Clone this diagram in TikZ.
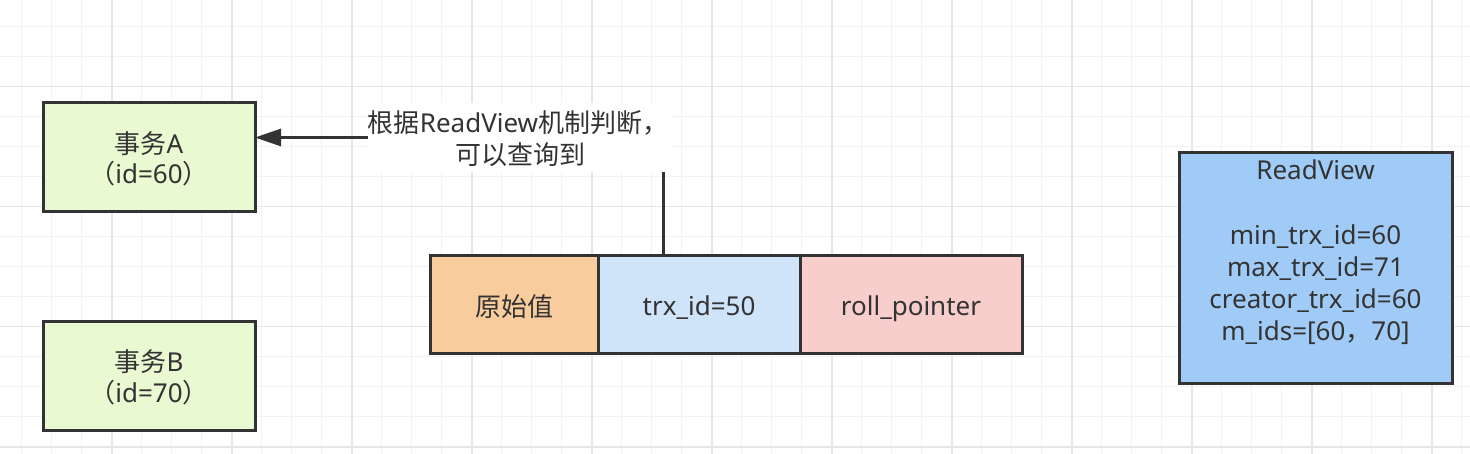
\documentclass[tikz,border=0pt]{standalone}
\usepackage{fontspec}
\setmainfont{Noto Sans}
\newfontfamily\cjk{Noto Sans CJK SC}
\usetikzlibrary{arrows.meta}
\definecolor{txt}{HTML}{333333}
\definecolor{edge}{HTML}{333333}
\definecolor{gridminor}{HTML}{F2F2F2}
\definecolor{gridmajor}{HTML}{E6E6E6}
\definecolor{txgreen}{HTML}{E9F9D1}
\definecolor{cellorange}{HTML}{F9CC9D}
\definecolor{cellblue}{HTML}{CFE3F9}
\definecolor{cellpink}{HTML}{F8CECC}
\definecolor{rvblue}{HTML}{A1CBF7}
\tikzset{
  basebox/.style={draw=edge, line width=3pt, inner sep=0pt, outer sep=0pt},
  txbox/.style={basebox, fill=txgreen, minimum width=212pt, minimum height=109pt},
  cellbox/.style={basebox, minimum height=98pt},
  conn/.style={draw=edge, line width=3pt},
  lblbg/.style={fill=white, inner sep=0pt, minimum width=304pt, minimum height=69pt},
  tl/.style={inner sep=0pt, text=txt, anchor=base, font=\fontsize{26pt}{31.7pt}\selectfont}
}
\begin{document}
\begin{tikzpicture}[x=1pt,y=-1pt]
\useasboundingbox (0,0) rectangle (1470,454);
\fill[white] (0,0) rectangle (1470,454);
% grid
\foreach \i in {0,...,48} {\draw[gridminor, line width=1pt] (21.7+30*\i,0) -- ++(0,454);}
\foreach \i in {0,...,14} {\draw[gridminor, line width=1pt] (0,26.7+30*\i) -- ++(1470,0);}
\foreach \i in {0,...,11} {\draw[gridmajor, line width=1.6pt] (111.7+120*\i,0) -- ++(0,454);}
\foreach \i in {0,...,3} {\draw[gridmajor, line width=1.6pt] (0,86.7+120*\i) -- ++(1470,0);}
% transactions
\node[txbox] (a) at (149,157.5) {};
\node[tl] (a1) at (149,153.3) {{\cjk 事务}A};
\node[tl] (a2) at (149,184) {{\cjk （}id=60{\cjk ）}};
\node[txbox] (b) at (149,376) {};
\node[tl] (b1) at (149,371.7) {{\cjk 事务}B};
\node[tl] (b2) at (149,402.4) {{\cjk （}id=70{\cjk ）}};
% record
\node[cellbox, fill=cellorange, minimum width=168pt] (c1) at (514,304.5) {};
\node[cellbox, fill=cellblue, minimum width=202pt] (c2) at (699,304.5) {};
\node[cellbox, fill=cellpink, minimum width=222pt] (c3) at (911,304.5) {};
\node[tl] (c1t) at (514,316.3) {\cjk 原始值};
\node[tl] (c2t) at (699,316) {trx\_id=50};
\node[tl] (c3t) at (911,316) {roll\_pointer};
% label
\node[lblbg] (l) at (520,137.5) {};
\node[tl] (l1) at (518,132.7) {{\cjk 根据}ReadView{\cjk 机制判断，}};
\node[tl] (l2) at (520,164.8) {\cjk 可以查询到};
% readview
\node[basebox, fill=rvblue, minimum width=273pt, minimum height=230pt] (rv) at (1315.5,268) {};
\node[tl] (rv0) at (1315.5,180) {ReadView};
\node[tl] (rv1) at (1315.5,245) {min\_trx\_id=60};
\node[tl] (rv2) at (1315.5,276.7) {max\_trx\_id=71};
\node[tl] (rv3) at (1315.5,308.4) {creator\_trx\_id=60};
\node[tl] (rv4) at (1315.5,340.1) {m\_ids=[60{\cjk ，}70]};
% connectors
\coordinate (t) at (663,255);
\draw[conn] (t |- l.south) -- (t);
\draw[conn, -{Triangle[length=26pt,width=17pt]}] (l.west) -- (l.west -| a.east);
\end{tikzpicture}
\end{document}
